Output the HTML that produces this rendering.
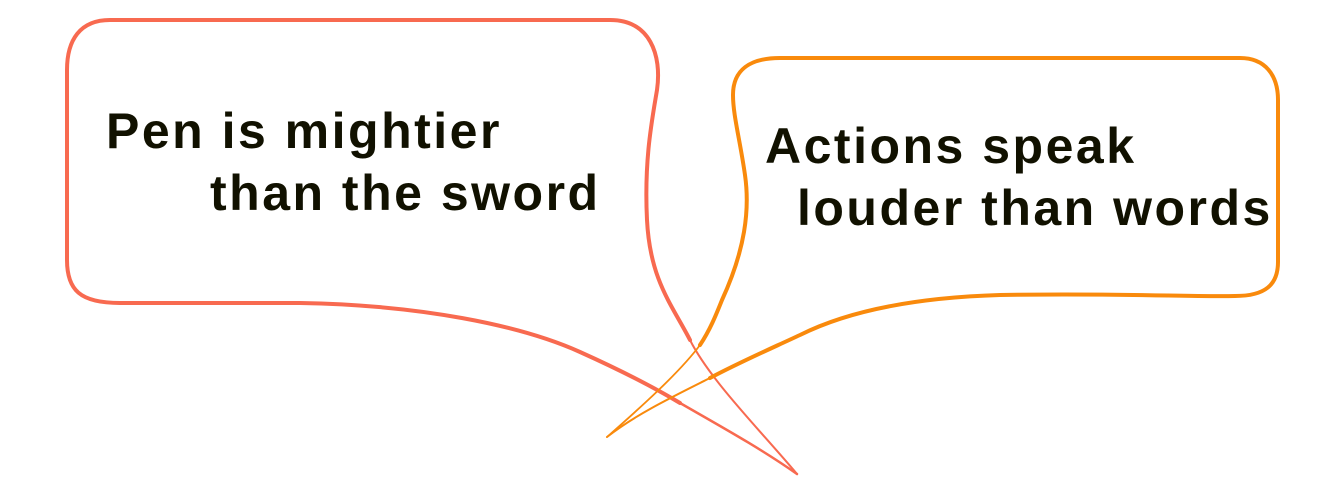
<!DOCTYPE html>
<html><head><style>
html,body{margin:0;padding:0;background:#fff;width:1344px;height:493px;overflow:hidden}
svg{display:block}
text{font-family:"Liberation Sans",Arial,sans-serif;font-weight:bold;font-size:50px;letter-spacing:2.5px;fill:#111100}
</style></head><body>
<svg width="1344" height="493" viewBox="0 0 1344 493">
<g fill="none" stroke="#f86a50" stroke-linejoin="round" stroke-linecap="round">
<path d="M690,340 C672,305 650,280 647,220 C644,160 652,120 657,90 C662,55 650,20 610,20 L110,20 C80,20 67,40 67,70 L67,260 C67,290 80,303 120,303 L300,303 C420,305 520,325 580,352 C620,370 650,385 680,403" stroke-width="4"/>
<path d="M797,474 C760,430 710,380 690,340" stroke-width="2"/>
<path d="M680,403 C720,426 760,448 797,474" stroke-width="2.5"/>
</g>
<g fill="none" stroke="#f98a0c" stroke-linejoin="round" stroke-linecap="round">
<path d="M700,345 C710,330 716,315 722,300 C745,250 750,210 745,175 C740,140 733,115 733,95 C733,70 750,58 780,58 L1240,58 C1265,58 1278,75 1278,100 L1278,262 C1278,285 1265,296 1235,296 C1190,297 1120,293 1000,295 C900,298 840,315 800,335 C770,349 740,362 710,378" stroke-width="4"/>
<path d="M607,437 C640,408 680,372 700,345" stroke-width="1.8"/>
<path d="M710,378 C670,398 635,415 607,437" stroke-width="2"/>
</g>
<text x="106" y="148">Pen is mightier</text>
<text x="210" y="210">than the sword</text>
<text x="765" y="163">Actions speak</text>
<text x="797" y="225">louder than words</text>
</svg>
</body></html>
